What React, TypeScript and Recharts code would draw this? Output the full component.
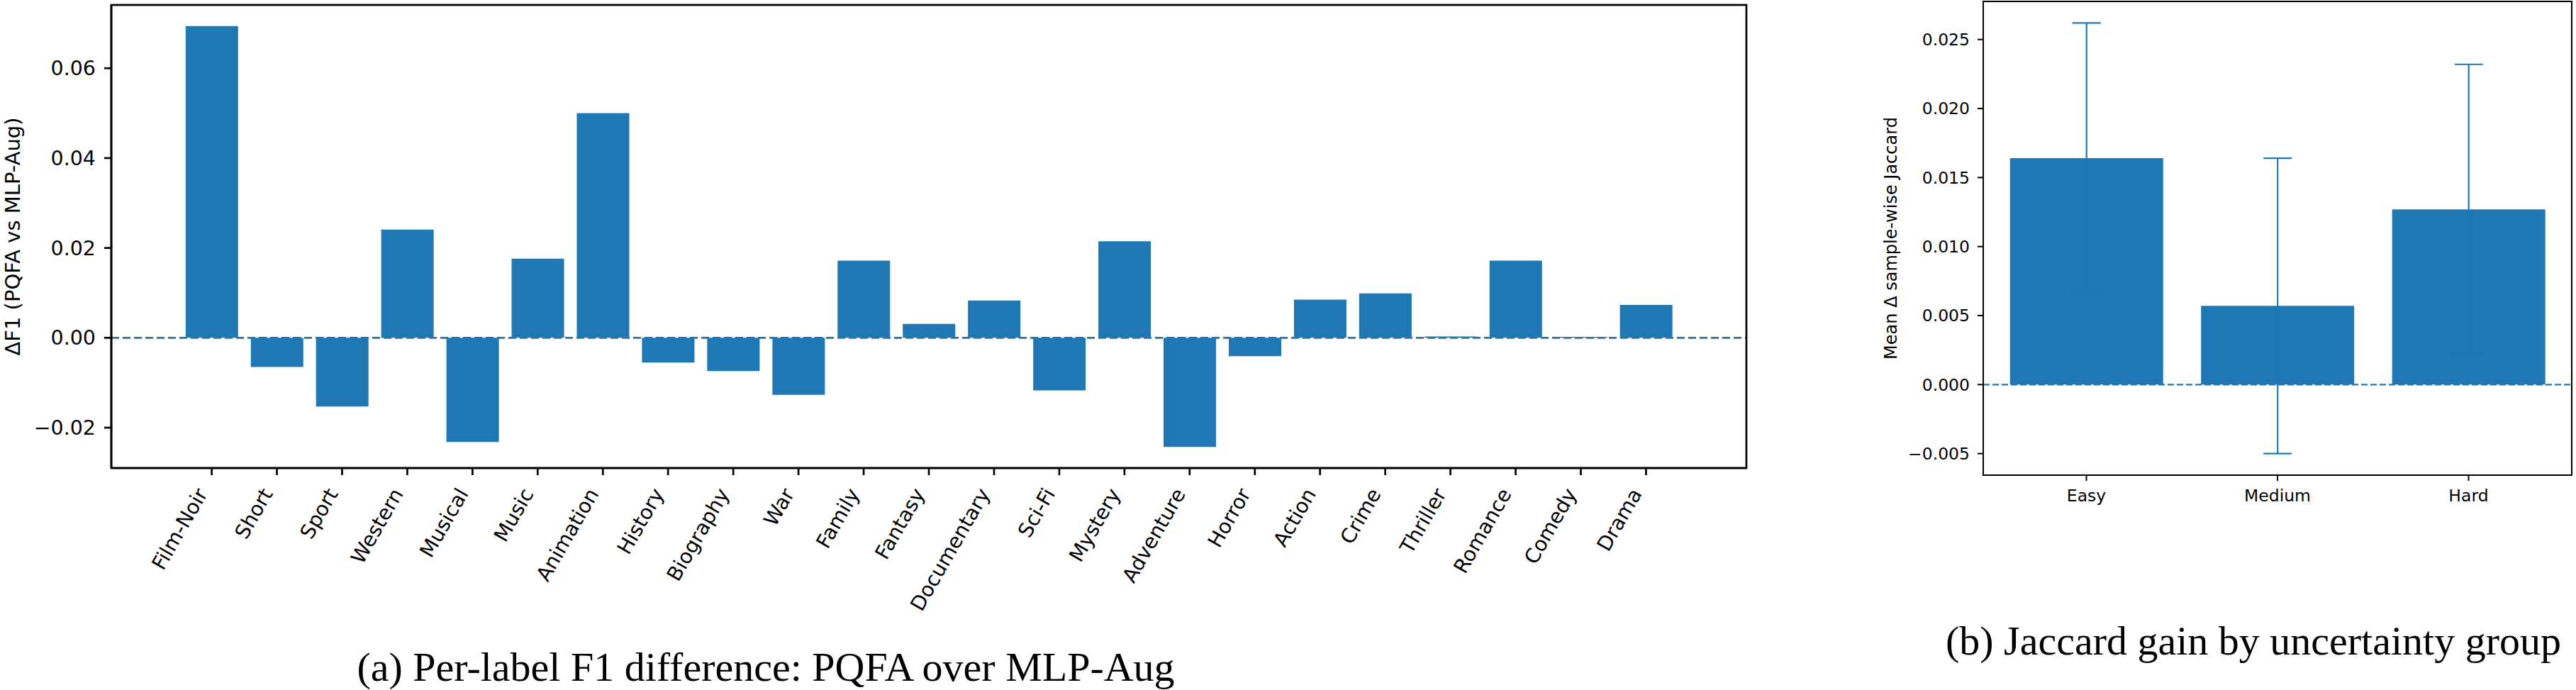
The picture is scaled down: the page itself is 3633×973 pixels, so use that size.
import React from "react";
import { BarChart, Bar, XAxis, YAxis, ReferenceLine, ErrorBar } from "recharts";

// (a) per-label F1 difference
const genres = [
  "Film-Noir", "Short", "Sport", "Western", "Musical", "Music", "Animation",
  "History", "Biography", "War", "Family", "Fantasy", "Documentary", "Sci-Fi",
  "Mystery", "Adventure", "Horror", "Action", "Crime", "Thriller", "Romance",
  "Comedy", "Drama",
];
const f1Delta = [
  0.0694, -0.0065, -0.0153, 0.0241, -0.0232, 0.0176, 0.05, -0.0055, -0.0074,
  -0.0127, 0.0172, 0.0031, 0.0083, -0.0117, 0.0215, -0.0243, -0.0041, 0.0085,
  0.0099, 0.0003, 0.0172, 0.0002, 0.0073,
];
const f1Ticks = [-0.02, 0, 0.02, 0.04, 0.06];

// (b) jaccard gain by uncertainty group
const groups = ["Easy", "Medium", "Hard"];
const jaccardMean = [0.0164, 0.0057, 0.0127];
const jaccardErr = [0.0098, 0.0107, 0.0105];
const jaccardTicks = [-0.005, 0, 0.005, 0.01, 0.015, 0.02, 0.025];

const BLUE = "#1f77b4";
const SANS = "DejaVu Sans";
const SERIF = "Liberation Serif";

const f1Data = genres.map((name, i) => ({ name, value: f1Delta[i] }));
const jaccardData = groups.map((name, i) => ({
  name,
  value: jaccardMean[i],
  err: jaccardErr[i],
}));

// matplotlib-like 5% margins around the data
const withMargin = (lo: number, hi: number): [number, number] => {
  const pad = (hi - lo) * 0.05;
  return [lo - pad, hi + pad];
};
const f1Domain = withMargin(Math.min(...f1Delta), Math.max(...f1Delta));
const jaccardDomain = withMargin(
  Math.min(...jaccardMean.map((m, i) => m - jaccardErr[i])),
  Math.max(...jaccardMean.map((m, i) => m + jaccardErr[i]))
);

const fmt = (digits: number) => (v: number) =>
  v < 0 ? "\u2212" + Math.abs(v).toFixed(digits) : v.toFixed(digits);

// plot boxes (page px) - used for chart margins and the top/right spines
const LEFT_BOX = { x: 157, y: 7, w: 2306, h: 653 };
const RIGHT_BOX = { x: 2797, y: 2, w: 830, h: 668 };

const RotatedTick = (props: any) => {
  const { x, y, payload } = props;
  const ax = x - 5;
  const ay = y + 24;
  return (
    <text
      x={ax}
      y={ay}
      transform={`rotate(-60, ${ax}, ${ay})`}
      textAnchor="end"
      fontSize={28.5}
      fontFamily={SANS}
      fill="#000"
    >
      {payload.value}
    </text>
  );
};

const leftLabel = (props: any) => {
  const vb = props.viewBox;
  const cx = vb.x + 28;
  const cy = vb.y + vb.height / 2;
  return (
    <text
      x={cx}
      y={cy}
      transform={`rotate(-90, ${cx}, ${cy})`}
      textAnchor="middle"
      fontSize={29}
      fontFamily={SANS}
      fill="#000"
    >
      ΔF1 (PQFA vs MLP-Aug)
    </text>
  );
};

const rightLabel = (props: any) => {
  const vb = props.viewBox;
  const cx = vb.x + 135;
  const cy = vb.y + vb.height / 2;
  return (
    <text
      x={cx}
      y={cy}
      transform={`rotate(-90, ${cx}, ${cy})`}
      textAnchor="middle"
      fontSize={24}
      fontFamily={SANS}
      fill="#000"
    >
      Mean Δ sample-wise Jaccard
    </text>
  );
};

function F1Chart() {
  const spine = { stroke: "#000", strokeWidth: 2.7 };
  return (
    <BarChart
      width={2480}
      height={973}
      data={f1Data}
      margin={{ top: LEFT_BOX.y, right: 2480 - LEFT_BOX.x - LEFT_BOX.w, bottom: 0, left: 0 }}
      barCategoryGap="10%"
    >
      <XAxis
        dataKey="name"
        interval={0}
        height={973 - LEFT_BOX.y - LEFT_BOX.h}
        tickSize={10}
        padding={{ left: 95.6, right: 95.6 }}
        axisLine={spine}
        tickLine={spine}
        tick={<RotatedTick />}
      />
      <YAxis
        type="number"
        domain={f1Domain}
        allowDataOverflow
        ticks={f1Ticks}
        interval={0}
        width={LEFT_BOX.x}
        tickSize={10}
        tickMargin={12}
        tickFormatter={fmt(2)}
        axisLine={spine}
        tickLine={spine}
        tick={{ fontSize: 28.5, fill: "#000", fontFamily: SANS }}
        label={leftLabel}
      />
      <Bar dataKey="value" fill={BLUE} isAnimationActive={false} />
      <ReferenceLine
        y={0}
        stroke={BLUE}
        strokeWidth={2.7}
        strokeDasharray="11 5"
      />
    </BarChart>
  );
}

function JaccardChart() {
  const spine = { stroke: "#000", strokeWidth: 2 };
  return (
    <BarChart
      width={1093}
      height={973}
      data={jaccardData}
      margin={{ top: RIGHT_BOX.y, right: 3633 - RIGHT_BOX.x - RIGHT_BOX.w, bottom: 0, left: 0 }}
      barCategoryGap="10%"
    >
      <XAxis
        dataKey="name"
        interval={0}
        height={973 - RIGHT_BOX.y - RIGHT_BOX.h}
        tickSize={8}
        tickMargin={12}
        padding={{ left: 10.8, right: 10.8 }}
        axisLine={spine}
        tickLine={spine}
        tick={{ fontSize: 23.5, fill: "#000", fontFamily: SANS }}
      />
      <YAxis
        type="number"
        domain={jaccardDomain}
        allowDataOverflow
        ticks={jaccardTicks}
        interval={0}
        width={RIGHT_BOX.x - 2540}
        tickSize={8}
        tickMargin={11}
        tickFormatter={fmt(3)}
        axisLine={spine}
        tickLine={spine}
        tick={{ fontSize: 23.5, fill: "#000", fontFamily: SANS }}
        label={rightLabel}
      />
      <Bar dataKey="value" fill={BLUE} isAnimationActive={false}>
        <ErrorBar
          dataKey="err"
          width={20}
          stroke={BLUE}
          strokeWidth={2.2}
          direction="y"
        />
      </Bar>
      <ReferenceLine
        y={0}
        stroke={BLUE}
        strokeWidth={2.2}
        strokeDasharray="9 4"
      />
    </BarChart>
  );
}

export default function App() {
  return (
    <div
      style={{
        position: "absolute",
        left: 0,
        top: 0,
        width: 3633,
        height: 973,
        background: "#fff",
        overflow: "hidden",
      }}
    >
      <div style={{ position: "absolute", left: 0, top: 0 }}>
        <F1Chart />
      </div>
      <div style={{ position: "absolute", left: 2540, top: 0 }}>
        <JaccardChart />
      </div>
      <svg
        width={3633}
        height={973}
        style={{ position: "absolute", left: 0, top: 0, pointerEvents: "none" }}
      >
        {/* top and right spines */}
        <rect
          x={LEFT_BOX.x}
          y={LEFT_BOX.y}
          width={LEFT_BOX.w}
          height={LEFT_BOX.h}
          fill="none"
          stroke="#000"
          strokeWidth={2.7}
        />
        <rect
          x={RIGHT_BOX.x}
          y={RIGHT_BOX.y}
          width={RIGHT_BOX.w}
          height={RIGHT_BOX.h}
          fill="none"
          stroke="#000"
          strokeWidth={2}
        />
        <text
          x={1080}
          y={960}
          textAnchor="middle"
          fontSize={58}
          fontFamily={SERIF}
          fill="#000"
        >
          (a) Per-label F1 difference: PQFA over MLP-Aug
        </text>
        <text
          x={3178}
          y={923}
          textAnchor="middle"
          fontSize={58}
          fontFamily={SERIF}
          fill="#000"
        >
          (b) Jaccard gain by uncertainty group
        </text>
      </svg>
    </div>
  );
}
